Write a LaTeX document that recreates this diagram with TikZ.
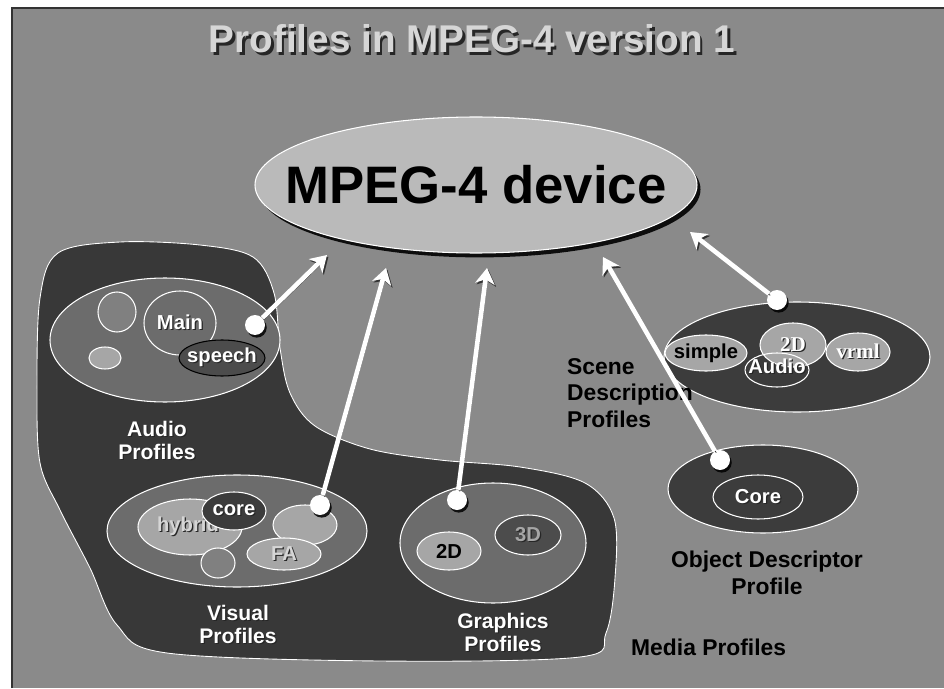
\documentclass[tikz,border=0pt]{standalone}
\usepackage{fontspec}
\setmainfont{Liberation Sans}
\newfontfamily\scenefont{Liberation Serif}
\usetikzlibrary{arrows.meta, shapes.geometric, shadows}
\definecolor{slideGray}{RGB}{138, 138, 138}
\definecolor{blobDark}{RGB}{56, 56, 56}
\definecolor{midGray}{RGB}{108, 108, 108}
\definecolor{smallGray}{RGB}{128, 128, 128}
\definecolor{lightGray}{RGB}{166, 166, 166}
\definecolor{deviceGray}{RGB}{186, 186, 186}
\definecolor{innerDark}{RGB}{60, 60, 60}
\definecolor{speechGray}{RGB}{76, 76, 76}
\definecolor{titleGray}{RGB}{214, 214, 214}

% text with a dark drop shadow
\newcommand{\shtxt}[2][0.7pt]{\leavevmode\rlap{\kern#1\raisebox{-#1}{\color{black!85}#2}}#2}

\begin{document}
\begin{tikzpicture}[
    font=\bfseries,
    prof/.style={ellipse, draw=white!85, line width=0.6pt, inner sep=0pt},
    plabel/.style={font=\fontsize{11.5}{13}\selectfont\bfseries, text=white},
    grouplabel/.style={font=\fontsize{12}{13}\selectfont\bfseries, text=white, align=center},
    blacklabel/.style={font=\fontsize{13}{15}\selectfont\bfseries, text=black, align=center},
    linkdot/.style={circle, fill=white, minimum size=0.4cm, inner sep=0pt,
        drop shadow={shadow xshift=1pt, shadow yshift=-1.5pt, fill=black, opacity=0.85}},
    linkarrow/.style={-{Stealth[length=9pt, width=11pt, inset=2.5pt]}, line width=2.6pt, white,
        preaction={draw=black!80, transform canvas={shift={(0.8pt,-1pt)}}}}
]
\useasboundingbox (0,0) rectangle (18.88,13.76);
\fill[white] (0,0) rectangle (18.88,13.76);
\fill[slideGray] (0.24,0) rectangle (18.88,13.60);
\draw[black!80, line width=1pt] (0.24,0) -- (0.24,13.60) -- (18.88,13.60);

\node[font=\fontsize{22}{24}\selectfont\bfseries, text=titleGray] (title) at (9.44,12.96) {\shtxt[1.5pt]{Profiles in MPEG-4 version 1}};

\node[ellipse, fill=deviceGray, draw=white!80, line width=0.6pt, minimum width=8.84cm, minimum height=2.72cm, inner sep=0pt,
    drop shadow={shadow xshift=2pt, shadow yshift=-2.5pt, fill=black, opacity=0.9}] (device) at (9.52,10.06) {};
\node[font=\fontsize{30}{32}\selectfont\bfseries, text=black] (device txt) at (device) {MPEG-4 device};

% media profiles area
\filldraw[fill=blobDark, draw=white!80, line width=0.5pt] plot[smooth cycle, tension=0.55] coordinates {
    (1.16,8.70) (2.40,8.92) (4.00,8.86) (5.06,8.62) (5.48,7.90) (5.60,6.80) (5.80,5.90) (6.30,5.24)
    (7.40,4.78) (8.80,4.56) (10.40,4.42) (11.70,4.10) (12.28,3.40) (12.30,2.20) (12.12,1.10) (11.60,0.62)
    (7.60,0.54) (3.34,0.70) (2.34,1.26) (1.80,2.40) (1.20,3.56) (0.80,4.50) (0.74,6.00) (0.80,7.80)};

% audio
\node[prof, fill=midGray, minimum width=4.6cm, minimum height=2.48cm] (audio) at (3.30,6.96) {};
\node[prof, fill=smallGray, minimum width=0.76cm, minimum height=0.80cm] (a1) at (2.34,7.52) {};
\node[prof, fill=lightGray, minimum width=0.64cm, minimum height=0.44cm] (a2) at (2.10,6.60) {};
\node[prof, fill=midGray, minimum width=1.44cm, minimum height=1.28cm] (main) at (3.60,7.30) {};
\node[plabel] (main txt) at (main) {\shtxt{Main}};
\node[prof, fill=speechGray, draw=black, minimum width=1.72cm, minimum height=0.72cm] (speech) at (4.44,6.60) {};
\node[plabel] (speech txt) at (speech) {\shtxt{speech}};
\node[grouplabel] (audio label) at (3.14,4.94) {\shtxt{Audio}\\\shtxt{Profiles}};
\node[linkdot] (audio dot) at (5.10,7.26) {};

% visual
\node[prof, fill=midGray, minimum width=5.2cm, minimum height=2.24cm] (visual) at (4.74,3.14) {};
\node[prof, fill=lightGray, minimum width=2.08cm, minimum height=1.12cm] (hybrid) at (3.80,3.22) {};
\node[plabel, text=titleGray] (hybrid txt) at (3.76,3.22) {\shtxt{hybrid}};
\node[prof, fill=innerDark, minimum width=1.28cm, minimum height=0.76cm] (core) at (4.68,3.54) {};
\node[plabel] (core txt) at (core) {\shtxt{core}};
\node[prof, fill=smallGray, minimum width=0.68cm, minimum height=0.60cm] (v3) at (4.36,2.50) {};
\node[prof, fill=lightGray, minimum width=1.28cm, minimum height=0.80cm] (v4) at (6.10,3.26) {};
\node[prof, fill=lightGray, minimum width=1.48cm, minimum height=0.64cm] (fa) at (5.68,2.68) {};
\node[plabel, text=titleGray] (fa txt) at (fa) {\shtxt{FA}};
\node[grouplabel] (visual label) at (4.76,1.26) {\shtxt{Visual}\\\shtxt{Profiles}};
\node[linkdot] (visual dot) at (6.40,3.66) {};

% graphics
\node[prof, fill=midGray, minimum width=3.72cm, minimum height=2.40cm] (graphics) at (9.86,2.90) {};
\node[prof, fill=lightGray, minimum width=1.28cm, minimum height=0.76cm] (g2d) at (8.98,2.74) {};
\node[plabel, text=black] (g2d txt) at (g2d) {2D};
\node[prof, fill=speechGray, minimum width=1.32cm, minimum height=0.80cm] (g3d) at (10.56,3.06) {};
\node[plabel, text=black!35] (g3d txt) at (g3d) {\shtxt{3D}};
\node[grouplabel] (graphics label) at (10.06,1.10) {\shtxt{Graphics}\\\shtxt{Profiles}};
\node[linkdot] (graphics dot) at (9.14,3.76) {};

% scene description
\node[prof, fill=innerDark, minimum width=5.32cm, minimum height=2.20cm] (scene) at (15.94,6.62) {};
\node[prof, fill=lightGray, minimum width=1.64cm, minimum height=0.72cm] (simple) at (14.12,6.70) {};
\node[plabel, text=black] (simple txt) at (simple) {simple};
\node[prof, fill=lightGray, minimum width=1.32cm, minimum height=0.88cm] (s2d) at (15.86,6.86) {};
\node[plabel, font=\fontsize{12}{13}\selectfont\scenefont\bfseries] (s2d txt) at (s2d) {\shtxt{2D}};
\node[prof, minimum width=1.28cm, minimum height=0.68cm] (saudio) at (15.54,6.36) {};
\node[plabel] (saudio txt) at (15.54,6.42) {\shtxt{Audio}};
\node[prof, fill=lightGray, minimum width=1.28cm, minimum height=0.76cm] (vrml) at (17.16,6.72) {};
\node[plabel, font=\fontsize{12}{13}\selectfont\scenefont\bfseries] (vrml txt) at (vrml) {\shtxt{vrml}};
\node[blacklabel, align=left, anchor=west] (scene label) at (11.22,5.90) {Scene\\Description\\Profiles};
\node[linkdot] (scene dot) at (15.54,7.76) {};

% object descriptor
\node[prof, fill=innerDark, minimum width=3.80cm, minimum height=1.76cm] (objdesc) at (15.26,3.98) {};
\node[prof, fill=innerDark, minimum width=1.80cm, minimum height=0.88cm] (odcore) at (15.16,3.82) {};
\node[plabel] (odcore txt) at (odcore) {\shtxt{Core}};
\node[blacklabel] (objdesc label) at (15.34,2.30) {Object Descriptor\\Profile};
\node[linkdot] (objdesc dot) at (14.40,4.56) {};

\node[blacklabel, anchor=west] (media label) at (12.50,0.82) {Media Profiles};

\coordinate (audio tip) at (6.54,8.66);
\coordinate (visual tip) at (7.72,8.40);
\coordinate (graphics tip) at (9.74,8.40);
\coordinate (objdesc tip) at (12.06,8.62);
\coordinate (scene tip) at (13.80,9.12);

\draw[linkarrow] (audio dot) -- (audio tip);
\draw[linkarrow] (visual dot) -- (visual tip);
\draw[linkarrow] (graphics dot) -- (graphics tip);
\draw[linkarrow] (objdesc dot) -- (objdesc tip);
\draw[linkarrow] (scene dot) -- (scene tip);
\end{tikzpicture}
\end{document}
